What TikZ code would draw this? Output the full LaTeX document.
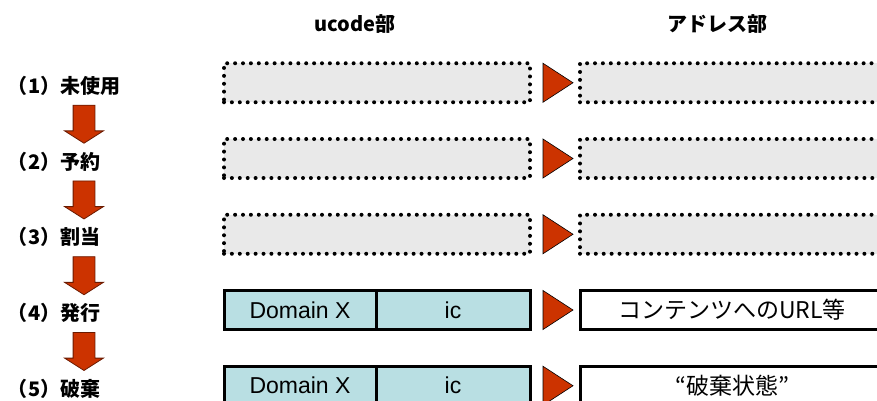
\documentclass[tikz,border=0pt]{standalone}
\usepackage{fontspec}
\setmainfont{Liberation Sans}
\newfontfamily\jpfont{Noto Sans CJK JP}
\usetikzlibrary{positioning,shapes.arrows}

\definecolor{stagered}{HTML}{CC3300}
\definecolor{stageedge}{HTML}{6A1A00}
\definecolor{cellblue}{HTML}{B9DFE3}
\definecolor{emptygray}{HTML}{E9E9E9}

\tikzset{
	colhead/.style = {font = {\jpfont\bfseries\fontsize{20}{24}\selectfont}},
	stagelabel/.style = {anchor = west, font = {\jpfont\bfseries\fontsize{20}{24}\selectfont}},
	emptybox/.style = {minimum width = 306, minimum height = 39, fill = emptygray, draw = black,
		line width = 4pt, line cap = round, dash pattern = on 0pt off 7.9pt},
	cell/.style = {minimum height = 39, fill = cellblue, draw = black, line width = 3pt,
		font = \fontsize{23}{26}\selectfont},
	addrbox/.style = {minimum width = 304, minimum height = 39, fill = white, draw = black,
		line width = 3pt, font = {\jpfont\fontsize{23}{26}\selectfont}},
	marker/.style = {fill = stagered, draw = black, line width = 0.6pt, line join = miter},
	stagearrow/.style = {single arrow, shape border rotate = 270, fill = stagered, draw = stageedge,
		line width = 0.8pt, inner sep = 10.5, minimum height = 38, minimum width = 38,
		single arrow head extend = 8.5, single arrow tip angle = 115}
}

\begin{document}
\begin{tikzpicture}[
		x = 1pt, y = -1pt,
		every node/.style = {inner sep = 0, outer sep = 0}
	]
	\useasboundingbox (0,0) rectangle (877,400);

	% column heads
	\node[colhead] (headuc) at (355,24) {ucode部};
	\node[colhead] (headad) at (717,24) {アドレス部};

	% life cycle stages
	\foreach \i/\txt in {1/未使用,2/予約,3/割当,4/発行,5/破棄}{
		\node[stagelabel] (st\i) at (8,{10+75.75*\i}) {（\i）\txt};
	}

	\foreach \i in {1,...,4}{
		\node[stagearrow] (arr\i) at (84,{45+75.75*\i}) {};
	}

	% rows with nothing assigned yet
	\foreach \i in {1,2,3}{
		\node[emptybox] (uc\i) at (377,{7+75.75*\i}) {};
		\node[emptybox, minimum width = 304] (ad\i) at (732,{7+75.75*\i}) {};
	}

	% issued and discarded rows
	\foreach \i/\txt in {4/コンテンツへのURL等,5/“破棄状態”}{
		\node[cell, minimum width = 152] (dom\i) at (300,{7+75.75*\i}) {Domain X};
		\node[cell, minimum width = 154, right = 0pt of dom\i] (ic\i) {ic};
		\node[addrbox] (ad\i) at (732,{7+75.75*\i}) {\txt};
	}

	\foreach \i in {1,...,5}{
		\draw[marker] ([xshift=-37pt]ad\i.north west) -- ([xshift=-7pt]ad\i.west)
			-- ([xshift=-37pt]ad\i.south west) -- cycle;
	}

\end{tikzpicture}
\end{document}
